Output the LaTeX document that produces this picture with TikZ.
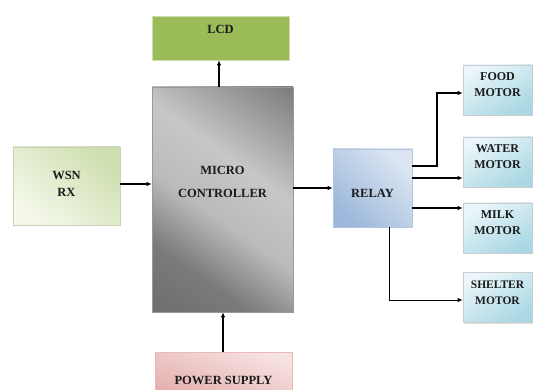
\documentclass[tikz,border=0pt]{standalone}
\usepackage{fontspec}
\setmainfont{Liberation Serif}
\usetikzlibrary{arrows.meta,shadows}
\definecolor{lcdg}{HTML}{9BBB59}
\definecolor{wsnA}{HTML}{CFDFB0}
\definecolor{wsnB}{HTML}{F4F8EA}
\definecolor{relA}{HTML}{9DB8DB}
\definecolor{relB}{HTML}{DCE6F2}
\definecolor{motA}{HTML}{A9D8E4}
\definecolor{motB}{HTML}{EAF6F9}
\definecolor{powA}{HTML}{E2A9A8}
\definecolor{powB}{HTML}{F6E2E1}
\definecolor{txt}{HTML}{1A1A1A}
\pgfdeclarehorizontalshading{mcsh}{100bp}{color(0bp)=(black!62); color(30bp)=(black!52); color(45bp)=(black!27); color(60bp)=(black!22); color(75bp)=(black!40); color(100bp)=(black!70)}
\begin{document}
\begin{tikzpicture}[x=1pt,y=-1pt,
  box/.style={draw=black!20, line width=0.6pt, inner sep=0pt,
    drop shadow={shadow xshift=1.2pt,shadow yshift=-1.2pt,opacity=0.25}},
  lbl/.style={align=center, text=txt, inner sep=0pt,
    font=\fontsize{12.5}{16}\selectfont\bfseries},
  motor/.style={box, minimum width=69pt, minimum height=50pt,
    shading=axis, top color=motB, bottom color=motA, shading angle=30},
  arr/.style={line width=1.3pt, -{Latex[length=5pt,width=4.5pt]}},
  thin/.style={line width=0.9pt, -{Latex[length=5pt,width=4.5pt]}}]
\useasboundingbox (0,0) rectangle (533,390);
\begin{scope}
\clip (0,0) rectangle (533,390);
\node[box, minimum width=137pt, minimum height=44pt, fill=lcdg, draw=lcdg!50!white,
  label={[lbl,yshift=9pt]center:LCD}] (lcd) at (220.5,38) {};
\node[box, minimum width=141pt, minimum height=225pt, shading=mcsh, shading angle=55,
  draw=black!40,
  label={[lbl,yshift=18pt,font=\fontsize{12.5}{23}\selectfont\bfseries]center:MICRO\\CONTROLLER}]
  (mc) at (222.5,199.5) {};
\node[box, minimum width=107pt, minimum height=78pt, shading=axis,
  top color=wsnA, bottom color=wsnB, shading angle=-40, draw=wsnA!80!black!60,
  label={[lbl,yshift=2.5pt,font=\fontsize{12.5}{17}\selectfont\bfseries]center:WSN\\RX}]
  (wsn) at (66.5,186) {};
\node[box, minimum width=79pt, minimum height=78pt, shading=axis,
  top color=relB, bottom color=relA, shading angle=-45, draw=relA!80,
  label={[lbl,yshift=-5pt]center:RELAY}]
  (relay) at (372.5,188) {};
\node[motor, label={[lbl,yshift=5pt,font=\fontsize{12}{16}\selectfont\bfseries]center:FOOD\\MOTOR}] (food) at (497.5,90) {};
\node[motor, label={[lbl,yshift=5pt,font=\fontsize{12}{16}\selectfont\bfseries]center:WATER\\MOTOR}] (water) at (497.5,162) {};
\node[motor, label={[lbl,yshift=5pt,font=\fontsize{12}{16}\selectfont\bfseries]center:MILK\\MOTOR}] (milk) at (497.5,228) {};
\node[motor, label={[lbl,yshift=5pt,font=\fontsize{11.5}{16}\selectfont\bfseries]center:SHELTER\\MOTOR}] (shelter) at (497.5,297.5) {};
\node[box, minimum width=137pt, minimum height=56pt, shading=axis,
  top color=powB, bottom color=powA, shading angle=-20, draw=powA!80,
  label={[lbl,yshift=0pt]center:POWER SUPPLY}]
  (pow) at (223.5,380) {};
\end{scope}
% connectors
\draw[arr] (mc.north -| 219,0) -- (lcd.south -| 219,0);
\draw[arr] (pow.north -| 223,0) -- (mc.south -| 223,0);
\draw[arr] (wsn.east |- 0,184) -- (mc.west |- 0,184);
\draw[arr] (mc.east |- 0,188) -- (relay.west |- 0,188);
\coordinate (bend) at (437,166);
\draw[arr] (relay.east |- bend) -- (bend) |- (food.west |- 0,93);
\draw[arr] (relay.east |- 0,178) -- (water.west |- 0,178);
\draw[arr] (relay.east |- 0,208) -- (milk.west |- 0,208);
\coordinate (sb) at (389,300);
\draw[thin] (relay.south -| sb) -- (sb) -- (shelter.west |- sb);
\end{tikzpicture}
\end{document}
